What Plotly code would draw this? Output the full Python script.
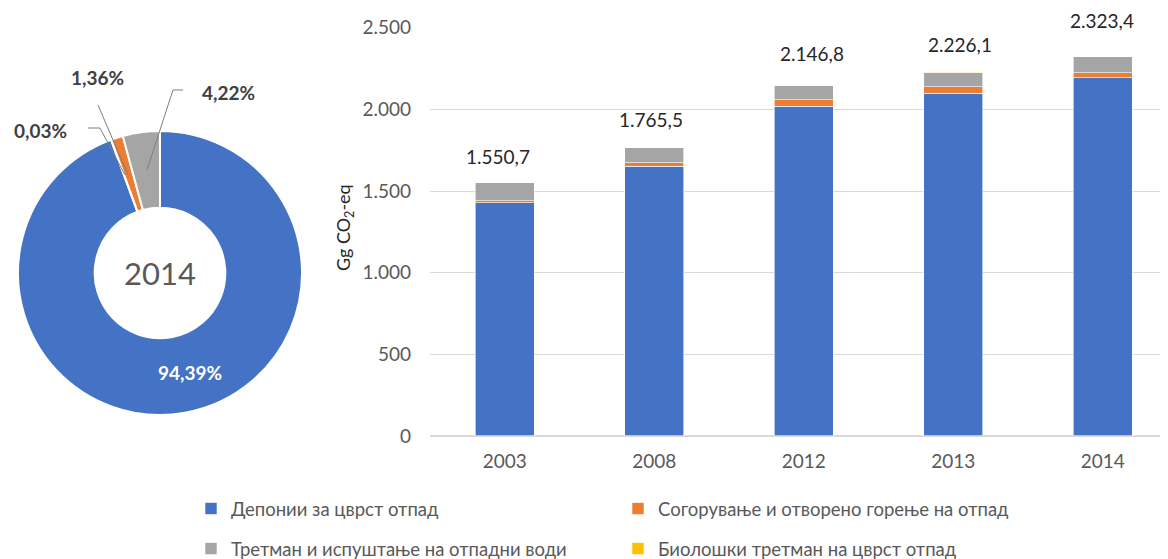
import plotly.graph_objects as go

# page body keeps an 8px margin, so the figure is drawn 8px smaller and coordinates offset
OFF = 8
W, H = 1168 - OFF, 559 - OFF
FONT = "Lato, 'Noto Sans', sans-serif"
TICK_GREY = "#595959"
GRID = "#d9d9d9"

years = ["2003", "2008", "2012", "2013", "2014"]
landfill = [1427.0, 1653.0, 2020.0, 2100.0, 2193.1]
incineration = [13.0, 20.0, 39.0, 37.0, 31.6]
wastewater = [110.7, 92.5, 87.8, 87.0, 98.0]
biological = [0.0, 0.0, 0.0, 2.1, 0.7]
totals = [1550.7, 1765.5, 2146.8, 2226.1, 2323.4]

names = [
    "Депонии за цврст отпад",
    "Согорување и отворено горење на отпад",
    "Третман и испуштање на отпадни води",
    "Биолошки третман на цврст отпад",
]
colors = ["#4472C4", "#ED7D31", "#A5A5A5", "#FFC000"]

# donut for 2014, clockwise from 12 o'clock
pie_labels = [names[0], names[3], names[1], names[2]]
pie_values = [landfill[4], biological[4], incineration[4], wastewater[4]]
pie_colors = [colors[0], colors[3], colors[1], colors[2]]


def px(x, y):
    # page pixel -> paper fraction
    return (x - OFF) / W, 1 - (y - OFF) / H


def num(v):
    s = f"{v:,.1f}"
    return s.replace(",", "X").replace(".", ",").replace("X", ".")


fig = go.Figure()

series = [landfill, incineration, wastewater, biological]
legends = ["legend", "legend", "legend2", "legend2"]
for name, vals, col, lg in zip(names, series, colors, legends):
    fig.add_trace(go.Bar(
        x=years, y=vals, name=name, width=0.395,
        marker=dict(color=col, line=dict(color="white", width=0.6)),
        legend=lg,
    ))

# donut
cx, cy, R = 160, 273, 142
x0, y1 = px(cx - R, cy - R)
x1, y0 = px(cx + R, cy + R)
fig.add_trace(go.Pie(
    labels=pie_labels, values=pie_values, hole=0.46,
    sort=False, direction="clockwise", rotation=0,
    marker=dict(colors=pie_colors, line=dict(color="white", width=2)),
    textinfo="none", showlegend=False,
    domain=dict(x=[x0, x1], y=[y0, y1]),
))

total14 = sum(pie_values)
pct = {lab: f"{v / total14 * 100:.2f}%".replace(".", ",") for lab, v in zip(pie_labels, pie_values)}

annotations = []
# centre label
cxp, cyp = px(cx, cy)
annotations.append(dict(x=cxp, y=cyp, xref="paper", yref="paper", text="2014",
                        xanchor="center", yanchor="middle",
                        showarrow=False, font=dict(size=31, color=TICK_GREY)))
# slice labels
label_pos = {names[0]: (190, 372), names[3]: (40, 130), names[1]: (97, 77), names[2]: (228, 92)}
for lab, (lx, ly) in label_pos.items():
    xp, yp = px(lx, ly)
    col = "white" if lab == names[0] else "#404040"
    annotations.append(dict(x=xp, y=yp, xref="paper", yref="paper", text=f"<b>{pct[lab]}</b>",
                            xanchor="center", yanchor="middle",
                            showarrow=False, font=dict(size=19, color=col)))

# leader lines
leaders = [
    [(88, 128), (100, 128), (125, 175)],
    [(98, 105), (128, 175)],
    [(183, 90), (173, 90), (147, 170)],
]
shapes = []
for pts in leaders:
    path = "M " + " L ".join(f"{px(a, b)[0]:.5f},{px(a, b)[1]:.5f}" for a, b in pts)
    shapes.append(dict(type="path", xref="paper", yref="paper", path=path,
                       line=dict(color="#7f7f7f", width=1)))

# totals above bars
shifts = [26, 28, 32, 28, 36]
xoffs = [-7, -3, 8, 7, -1]
for i, (t, s, dx) in enumerate(zip(totals, shifts, xoffs)):
    annotations.append(dict(x=i, y=t, xref="x", yref="y", text=num(t), showarrow=False,
                            yshift=s, xshift=dx, font=dict(size=19, color="#262626")))

# y-axis title
tx, ty = px(345, 228)
annotations.append(dict(x=tx, y=ty, xref="paper", yref="paper", text="Gg CO<sub>2</sub>-eq",
                        xanchor="center", yanchor="middle",
                        textangle=-90, showarrow=False, font=dict(size=18, color="#262626")))

fig.update_layout(
    width=W, height=H,
    barmode="stack",
    separators=",.",
    paper_bgcolor="white", plot_bgcolor="white",
    font=dict(family=FONT, color=TICK_GREY),
    margin=dict(l=0, r=0, t=0, b=0, autoexpand=False),
    xaxis=dict(domain=[px(430, 0)[0], 1], range=[-0.5, 4.436], showgrid=False, showline=False,
               ticks="", tickfont=dict(size=19, color=TICK_GREY), ticklabelstandoff=12),
    yaxis=dict(domain=[px(0, 436)[1], px(0, 27.7)[1]], range=[0, 2500], dtick=500,
               tickformat=",", gridcolor=GRID, gridwidth=1, zeroline=True, zerolinecolor=GRID,
               tickfont=dict(size=19, color=TICK_GREY), ticklabelstandoff=18),
    legend=dict(orientation="h", x=px(191, 0)[0], y=px(0, 490)[1], xanchor="left", yanchor="top",
                entrywidth=382, entrywidthmode="pixels", traceorder="normal",
                font=dict(size=18.5, color=TICK_GREY), itemwidth=30),
    legend2=dict(orientation="h", x=px(191, 0)[0], y=px(0, 530)[1], xanchor="left", yanchor="top",
                 entrywidth=382, entrywidthmode="pixels", traceorder="normal",
                 font=dict(size=18.5, color=TICK_GREY), itemwidth=30),
    annotations=annotations,
    shapes=shapes,
)

fig.write_html("out.html")
